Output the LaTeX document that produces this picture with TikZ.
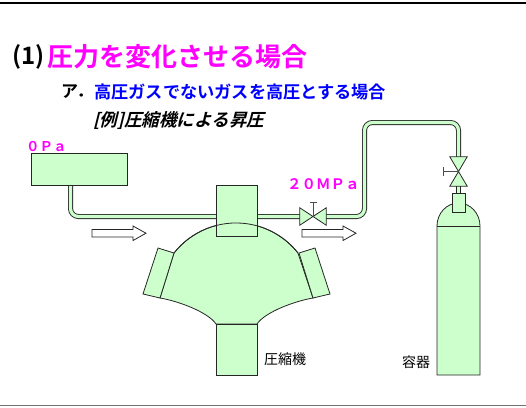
\documentclass[tikz,border=0pt]{standalone}
\usepackage{fontspec}
\usepackage{tikz}
\usetikzlibrary{positioning}

\newfontfamily\jpfont{Noto Sans CJK JP}
\newfontfamily\jpbold{Noto Sans CJK JP}[UprightFont=* Bold]
\newfontfamily\jpslant{Noto Sans CJK JP}[UprightFont=* Bold, FakeSlant=0.25]

\definecolor{gasgreen}{HTML}{CCFFCC}
\definecolor{titlepink}{HTML}{FF00FF}
\definecolor{subblue}{HTML}{0000FF}

\tikzset{
  part/.style={draw=black!85, fill=gasgreen, line width=0.8pt},
  pipe/.style={draw=black!85, double=gasgreen, double distance=3.2pt,
    line width=0.9pt, rounded corners=8pt},
  handle/.style={draw=black!70, line width=0.8pt},
  flow/.style={draw=black!85, fill=white, line width=0.8pt},
  txt/.style={inner sep=0pt, anchor=west},
}

\begin{document}
\begin{tikzpicture}[x=1pt, y=-1pt]
    \useasboundingbox (0,0) rectangle (526,407);
    \draw[line width=2.2pt] (0,3) -- (526,3);
    \draw[black!55, line width=1.1pt] (0,405.6) -- (526,405.6);

    % headings
    \node[txt, font=\fontsize{24}{24}\jpbold] (num) at (12,57) {(1)};
    \node[txt, font=\fontsize{26}{26}\jpbold, text=titlepink, right=3pt of num] (title) {圧力を変化させる場合};
    \node[txt, font=\fontsize{17}{17}\jpbold] (item) at (61,91.5) {ア．};
    \node[txt, font=\fontsize{17.2}{17}\jpbold, text=subblue] (sub) at (94,91.5) {高圧ガスでないガスを高圧とする場合};
    \node[txt, font=\fontsize{17.6}{17}\jpslant] (ex) at (93,121) {[例]圧縮機による昇圧};

    % valves and fittings
    \node[inner sep=0pt, minimum width=26pt, minimum height=17pt] (valveA) at (313,216.5) {};
    \node[inner sep=0pt, minimum width=17pt, minimum height=29pt] (valveB) at (458.5,171.5) {};
    \coordinate (tankout) at (70.5,180);
    \coordinate (riser) at (364.5,122.5);

    % pipework
    \draw[pipe] (tankout) |- (valveA.west);
    \draw[pipe] (valveA.east) -| (riser) -| (valveB.north);
    \draw[pipe] (valveB.south) -- (458.5,196);

    \node[part, minimum width=96pt, minimum height=32pt] (tank) at (79,169) {};
    \node[txt, font=\fontsize{13.5}{13}\jpbold, text=titlepink] (lowp) at (26,146.5) {０Ｐａ};

    % compressor
    \draw[part] (174,253) arc[start angle=218.3, end angle=321.7, radius=79]
      -- (313,298) .. controls (295,301) and (265,312) .. (257,324)
      -- (216,324) .. controls (208,312) and (178,301) .. (160,298) -- cycle;
    \draw[part] (158,248) -- (174,253) -- (160,298) -- (143,294) -- cycle;
    \draw[part] (315,248) -- (299,253) -- (313,298) -- (330,294) -- cycle;
    \node[part, minimum width=41pt, minimum height=51pt] (outlet) at (236.5,349.5) {};
    \node[part, minimum width=41pt, minimum height=51pt] (inlet) at (236.5,210.5) {};
    \draw[draw=black!85, line width=0.8pt] (174,253) arc[start angle=218.3, end angle=321.7, radius=79];
    \node[txt, font=\fontsize{14}{14}\jpfont] (complabel) at (264,359) {圧縮機};

    % valve bodies
    \draw[part] (valveA.center) -- (valveA.north west) -- (valveA.south west) -- cycle;
    \draw[part] (valveA.center) -- (valveA.north east) -- (valveA.south east) -- cycle;
    \draw[handle] (valveA.center) -- ++(0,-14.5) ++(-3.5,0) -- ++(7,0);
    \draw[part] (valveB.center) -- (valveB.north west) -- (valveB.north east) -- cycle;
    \draw[part] (valveB.center) -- (valveB.south west) -- (valveB.south east) -- cycle;
    \draw[handle] (valveB.center) -- ++(-15.5,0) ++(0,-4.5) -- ++(0,9);
    \node[txt, font=\fontsize{14.5}{14}\jpbold, text=titlepink] (highp) at (287,184) {２０ＭＰａ};

    % gas cylinder
    \draw[part] (437,375) -- (437,226) arc[start angle=180, end angle=360, x radius=21.5, y radius=23]
      -- (480,375) -- cycle;
    \draw[draw=black!85, line width=0.6pt] (437,226) -- (480,226);
    \node[part, minimum width=13pt, minimum height=19pt] (cap) at (458.5,202.5) {};
    \node[txt, font=\fontsize{14}{14}\jpfont] (vessellabel) at (402,362) {容器};

    % flow direction
    \foreach \x in {92,302}
      \draw[flow] (\x,229.5) -- ++(41,0) -- ++(0,-3.5) -- ++(13,7.2)
        -- ++(-13,7.3) -- ++(0,-3.5) -- ++(-41,0) -- cycle;
\end{tikzpicture}
\end{document}
